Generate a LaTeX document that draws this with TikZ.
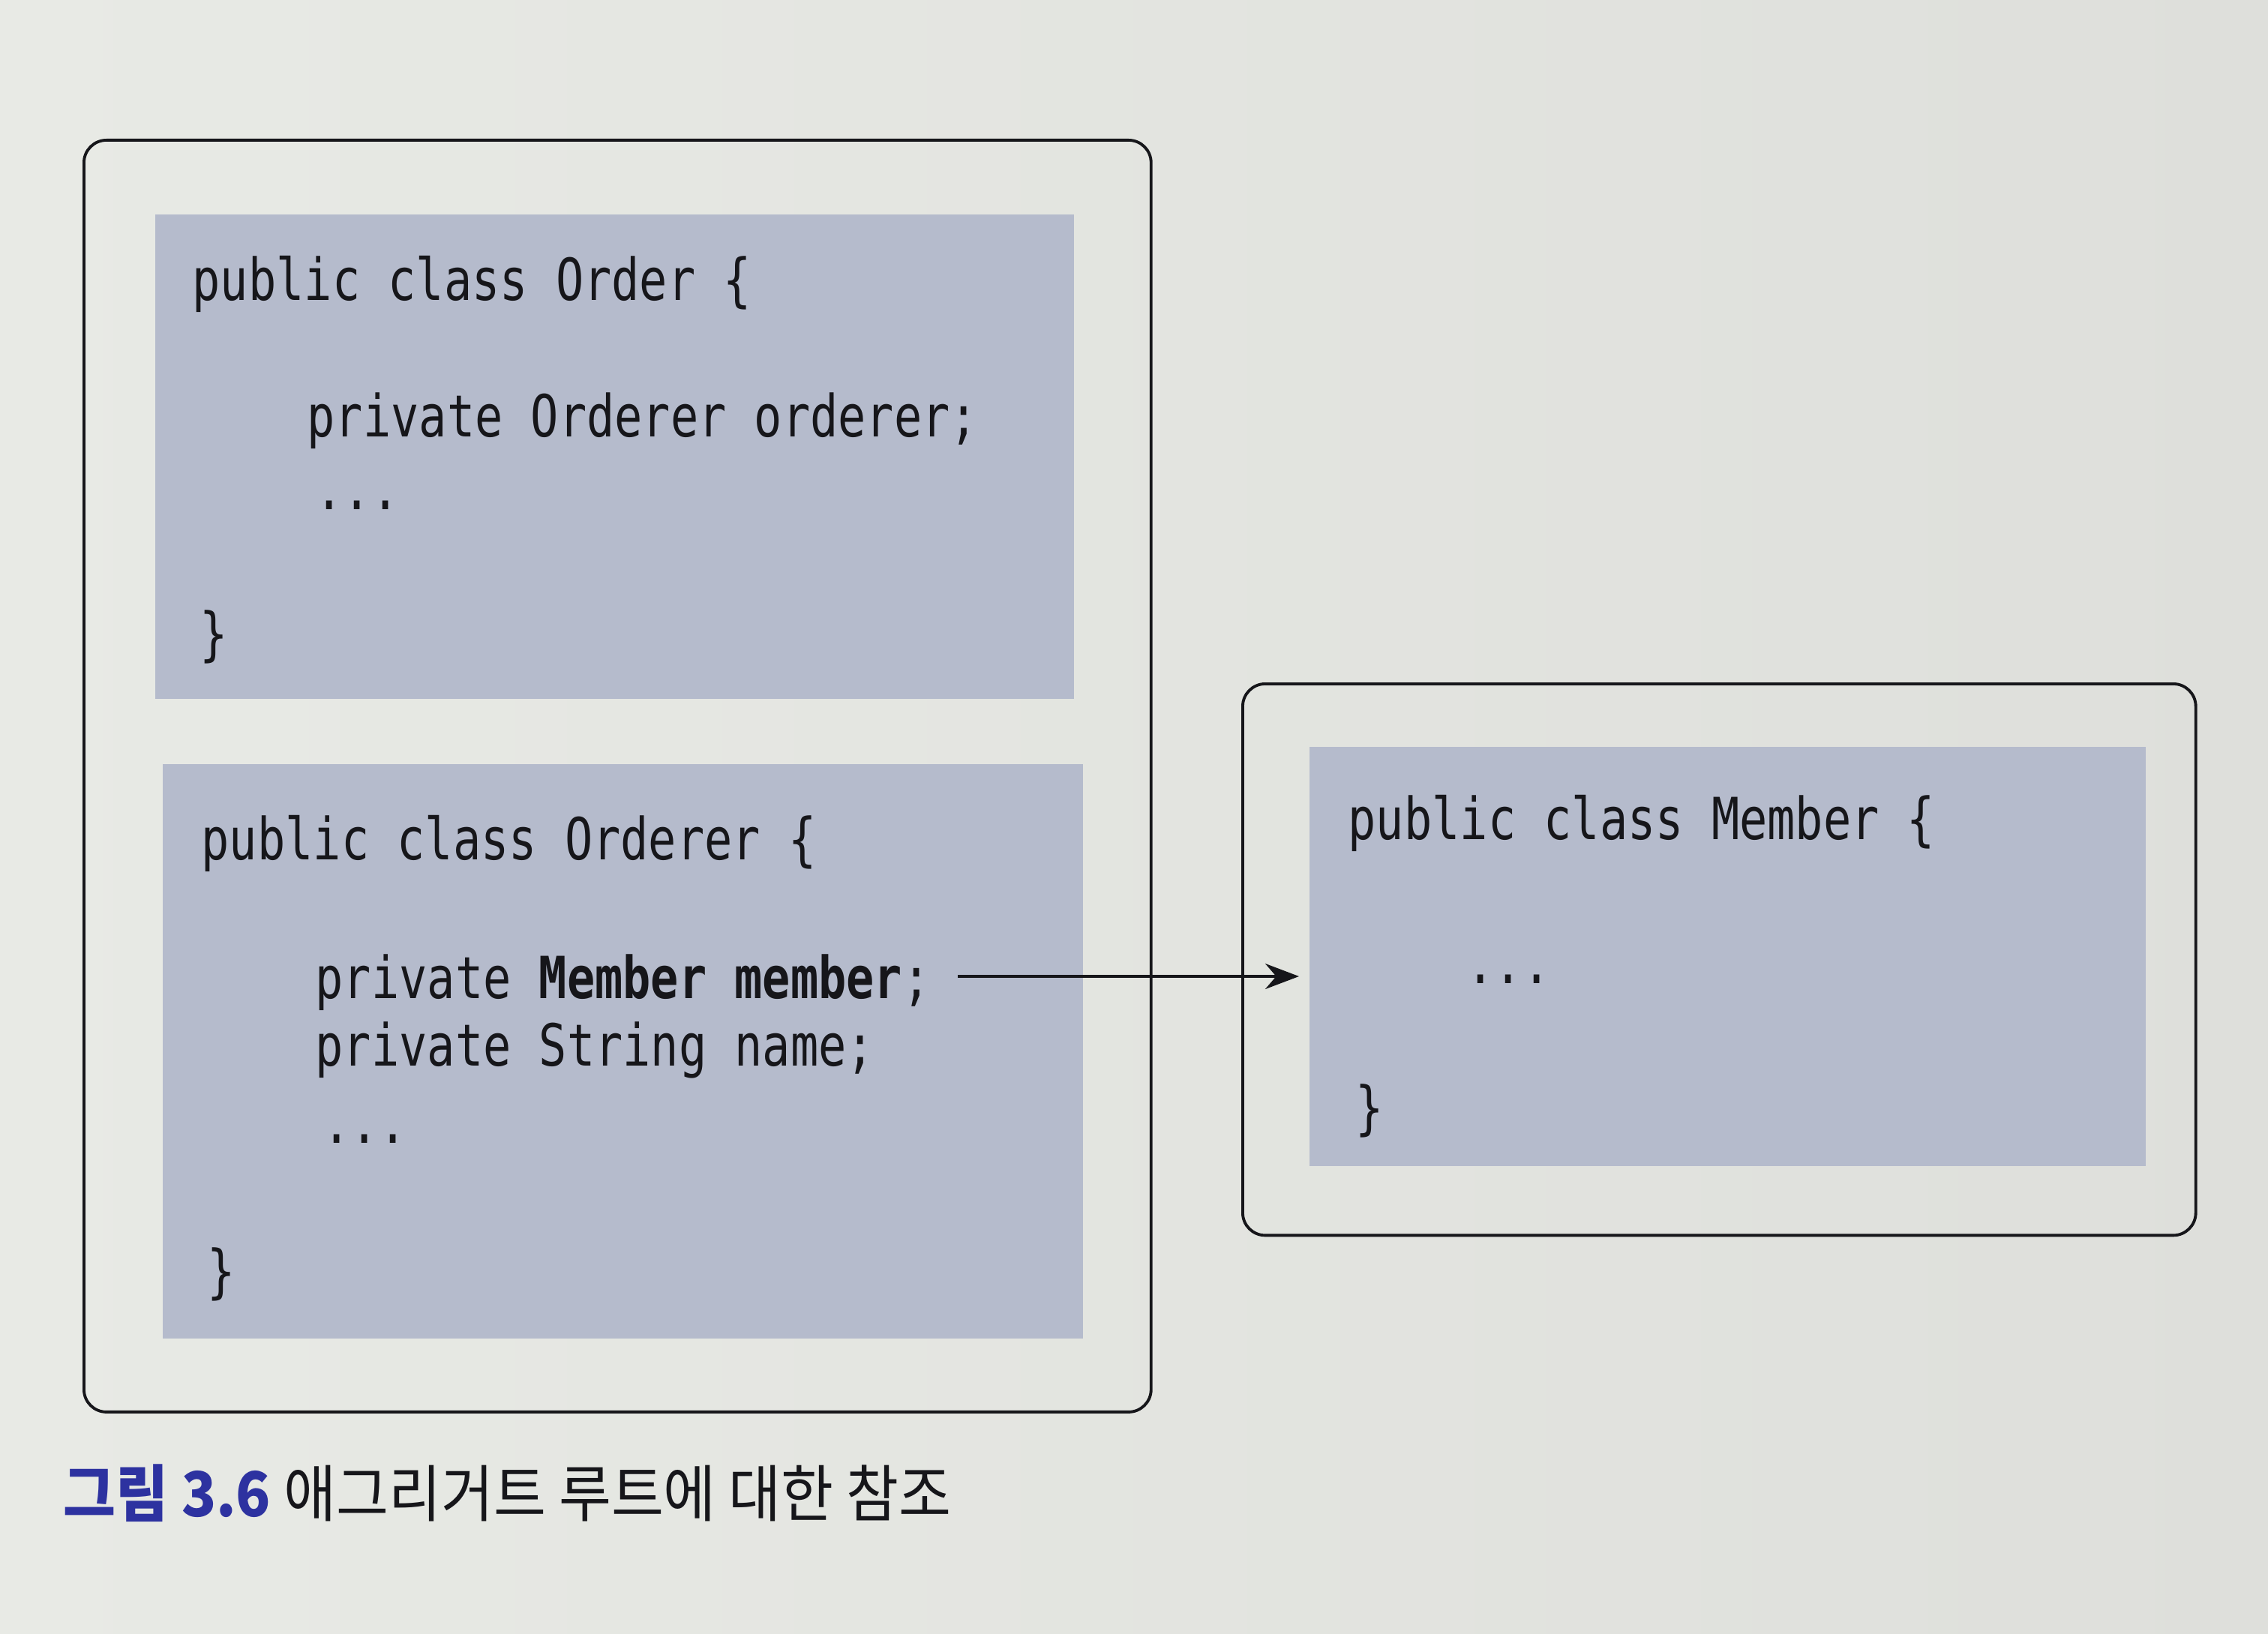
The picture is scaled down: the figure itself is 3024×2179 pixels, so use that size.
\documentclass[tikz,border=0pt]{standalone}
\usepackage{fontspec}
\newfontfamily\codefont[FakeStretch=0.8]{DejaVu Sans Mono}
\newfontfamily\cjkfont[FakeStretch=0.92]{Noto Sans CJK KR}
\usetikzlibrary{arrows.meta}
\definecolor{pageL}{RGB}{232,234,229}
\definecolor{pageR}{RGB}{222,223,219}
\definecolor{codebg}{RGB}{181,187,204}
\definecolor{capblue}{RGB}{45,50,160}
\definecolor{ink}{RGB}{22,22,26}
\tikzset{
  outerbox/.style={draw=ink, line width=1.1pt, rounded corners=0.3cm, inner sep=0pt, anchor=north west},
  codeblock/.style={fill=codebg, draw=none, inner sep=0pt, anchor=north west},
  code/.style={font=\codefont\fontsize{22}{26}\selectfont, text=ink, inner sep=0pt, anchor=base west},
  ref/.style={draw=ink, line width=0.9pt, -{Stealth[length=0.45cm,width=0.34cm]}, shorten >=0.13cm},
  caption/.style={font=\cjkfont\fontsize{23.5}{28}\selectfont, inner sep=0pt, anchor=base west}
}
\begin{document}
\begin{tikzpicture}[x=0.01cm,y=-0.01cm]
\useasboundingbox (0,0) rectangle (3024,2179);
\shade[left color=pageL, right color=pageR] (0,0) rectangle (3024,2179);

% outer boxes
\node[outerbox, minimum width=14.22cm, minimum height=16.95cm] (aggbox) at (110,185) {};
\node[outerbox, minimum width=12.70cm, minimum height=7.35cm] (memberbox) at (1655,910) {};

% code blocks
\node[codeblock, minimum width=12.25cm, minimum height=6.46cm] (orderblk) at (206,285) {};
\node[codeblock, minimum width=12.27cm, minimum height=7.66cm] (ordererblk) at (216,1018) {};
\node[codeblock, minimum width=11.15cm, minimum height=5.59cm] (memberblk) at (1745,995) {};

% Order
\node[code] (o1) at (256,401) {public class Order \{};
\node[code] (o2) at (409,582) {private Orderer orderer;};
\node[code] (o3) at (420,679) {...};
\node[code] (o4) at (266,872) {\}};

% Orderer
\node[code] (r1) at (268,1146) {public class Orderer \{};
\node[code] (mm) at (420,1331) {private \textbf{Member member};};
\node[code] (r3) at (420,1421) {private String name;};
\node[code] (r4) at (430,1524) {...};
\node[code] (r5) at (276,1722) {\}};

% Member
\node[code] (m1) at (1797,1119) {public class Member \{};
\node[code] (m2) at (1955,1311) {...};
\node[code] (m3) at (1807,1504) {\}};

% reference arrow
\coordinate (refstart) at (1277,1302);
\draw[ref] (refstart) -- (refstart -| memberblk.west);

% caption
\node[caption] (cap) at (84,2022) {\textcolor{capblue}{\textbf{그림 3.6}} \textcolor{ink}{애그리거트 루트에 대한 참조}};
\end{tikzpicture}
\end{document}
